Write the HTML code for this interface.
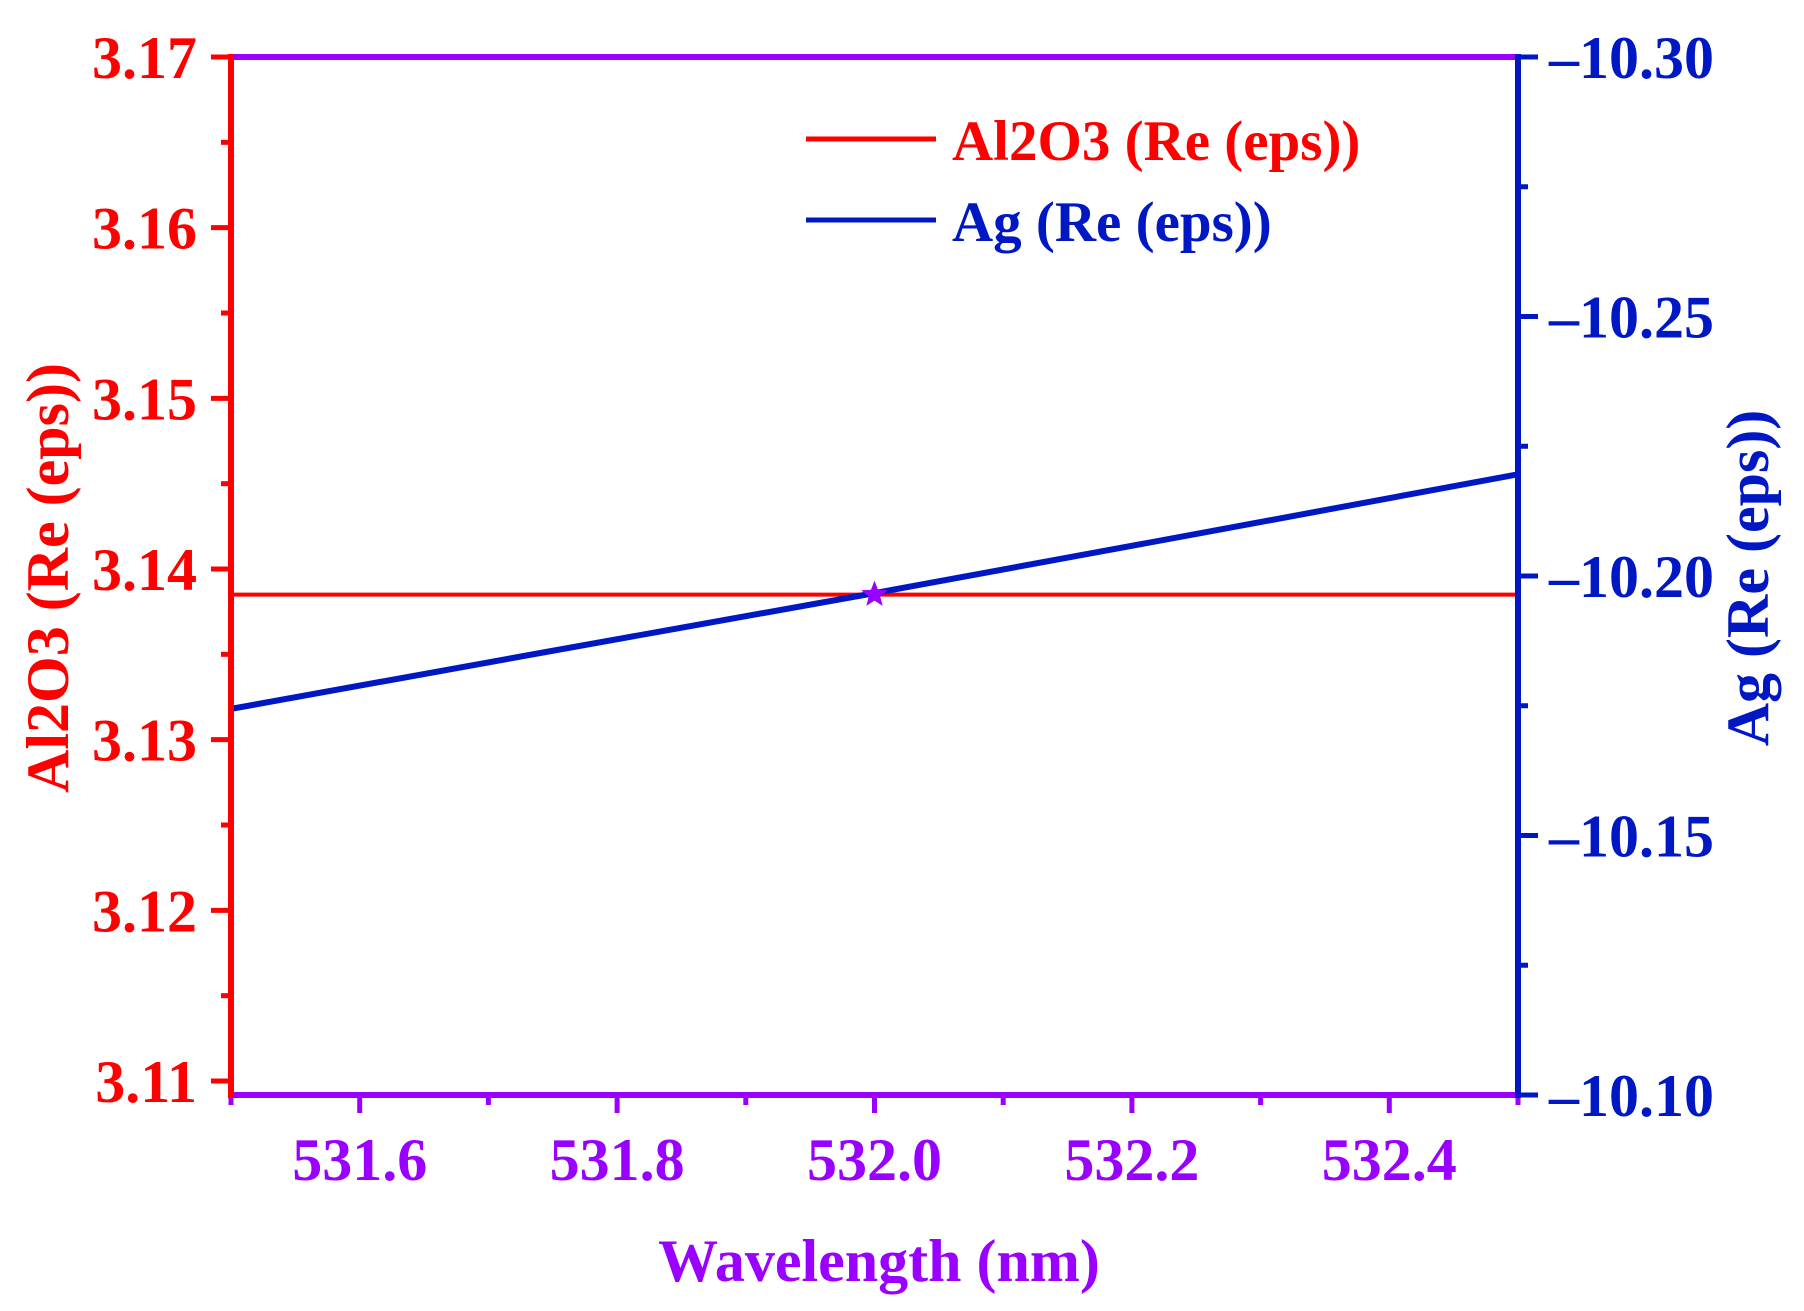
<!DOCTYPE html>
<html><head><meta charset="utf-8"><style>
html,body{margin:0;padding:0;background:#fff;}
svg{display:block;font-family:"Liberation Serif",serif;font-weight:bold;}
</style></head><body>
<svg id="chart" width="1804" height="1311" viewBox="0 0 1804 1311" xmlns="http://www.w3.org/2000/svg"></svg>
<script>
const xTicks = [531.6, 531.8, 532.0, 532.2, 532.4];
const xTickLabels = ["531.6", "531.8", "532.0", "532.2", "532.4"];
const yLeftTicks = [3.11, 3.12, 3.13, 3.14, 3.15, 3.16, 3.17];
const yLeftTickLabels = ["3.11", "3.12", "3.13", "3.14", "3.15", "3.16", "3.17"];
const yRightTicks = [-10.10, -10.15, -10.20, -10.25, -10.30];
const yRightTickLabels = ["-10.10", "-10.15", "-10.20", "-10.25", "-10.30"];
const wavelength = [531.5, 531.75, 532.0, 532.25, 532.5];
const al2o3Values = [3.1385, 3.1385, 3.1385, 3.1385, 3.1385];
const agValues = [-10.1744, -10.1856, -10.1967, -10.2081, -10.2196];
const markerX = [532.0];
const markerY = [3.1385];

const L = 231, R = 1518, T = 57, B = 1095, BL = 1081;
const RED = "#ff0000", BLUE = "#0018c4", PURP = "#9900ff";
const xS = v => L + (v - 531.5) / 1.0 * (R - L);
const yL = v => BL - (v - 3.11) / 0.06 * (BL - T);
const yR = v => B - (-10.10 - v) / 0.2 * (B - T);

const svg = document.getElementById('chart');
const NS = "http://www.w3.org/2000/svg";
function mk(tag, attrs, parent) {
  const e = document.createElementNS(NS, tag);
  for (const k in attrs) e.setAttribute(k, attrs[k]);
  (parent || svg).appendChild(e);
  return e;
}

for (let i = 0; i <= 12; i++) {
  const v = 3.11 + i * 0.005;
  const major = i % 2 === 0;
  const t = mk('line', {x1: L, x2: L - (major ? 20 : 10), y1: yL(v), y2: yL(v), stroke: RED, 'stroke-width': 5});
  
  
}
yLeftTicks.forEach((v, i) => {
  const t = mk('text', {x: 197, y: yL(v) + 21, 'text-anchor': 'end', 'font-size': 60, fill: RED});
  t.textContent = yLeftTickLabels[i];
  
  
});
for (let i = 0; i <= 8; i++) {
  const v = -10.10 - i * 0.025;
  const major = i % 2 === 0;
  const t = mk('line', {x1: R, x2: R + (major ? 20 : 10), y1: yR(v), y2: yR(v), stroke: BLUE, 'stroke-width': 5});
  
  
}
yRightTicks.forEach((v, i) => {
  const t = mk('text', {x: 1549, y: yR(v) + 21, 'text-anchor': 'start', 'font-size': 60, fill: BLUE});
  t.textContent = yRightTickLabels[i].replace('-', '\u2013');
  
  
});
for (let i = 0; i <= 10; i++) {
  const v = 531.5 + i * 0.1;
  const major = i % 2 === 1;
  const t = mk('line', {x1: xS(v), x2: xS(v), y1: B, y2: B + (major ? 18 : 10), stroke: PURP, 'stroke-width': 5});
  
  
}
xTicks.forEach((v, i) => {
  const t = mk('text', {x: xS(v), y: 1180, 'text-anchor': 'middle', 'font-size': 60, fill: PURP});
  t.textContent = xTickLabels[i];
  
  
});

const redLine = mk('polyline', {points: wavelength.map((w, i) => xS(w) + ',' + yL(al2o3Values[i])).join(' '), fill: 'none', stroke: RED, 'stroke-width': 4});


const blueLine = mk('polyline', {points: wavelength.map((w, i) => xS(w) + ',' + yR(agValues[i])).join(' '), fill: 'none', stroke: BLUE, 'stroke-width': 6});



markerX.forEach((mx, i) => {
  const cx = xS(mx), cy = yL(markerY[i]);
  const pts = [];
  for (let k = 0; k < 10; k++) {
    const r = k % 2 === 0 ? 14 : 6;
    const a = -Math.PI / 2 + k * Math.PI / 5;
    pts.push((cx + r * Math.cos(a)).toFixed(1) + ',' + (cy + r * Math.sin(a)).toFixed(1));
  }
  const s = mk('polygon', {points: pts.join(' '), fill: PURP});
  
  
});

const axTop = mk('line', {x1: L, x2: R, y1: T, y2: T, stroke: PURP, 'stroke-width': 6});


const axBot = mk('line', {x1: L - 3, x2: R + 3, y1: B, y2: B, stroke: PURP, 'stroke-width': 6});


const axL = mk('line', {x1: L, x2: L, y1: T - 3, y2: B + 3, stroke: RED, 'stroke-width': 6});


const axR = mk('line', {x1: R, x2: R, y1: T - 3, y2: B + 3, stroke: BLUE, 'stroke-width': 6});



const lg1 = mk('line', {x1: 806, x2: 936, y1: 139, y2: 139, stroke: RED, 'stroke-width': 5});


const lt1 = mk('text', {x: 952, y: 160, 'font-size': 57, fill: RED});
lt1.textContent = 'Al2O3 (Re (eps))';


const lg2 = mk('line', {x1: 806, x2: 936, y1: 220, y2: 220, stroke: BLUE, 'stroke-width': 5});


const lt2 = mk('text', {x: 952, y: 241, 'font-size': 57, fill: BLUE});
lt2.textContent = 'Ag (Re (eps))';



const tl = mk('text', {x: 0, y: 0, 'text-anchor': 'middle', 'font-size': 60, fill: RED, transform: 'translate(68,578) rotate(-90)'});
tl.textContent = 'Al2O3 (Re (eps))';


const tr = mk('text', {x: 0, y: 0, 'text-anchor': 'middle', 'font-size': 60, fill: BLUE, transform: 'translate(1768,578) rotate(-90)'});
tr.textContent = 'Ag (Re (eps))';


const tx = mk('text', {x: 879, y: 1281, 'text-anchor': 'middle', 'font-size': 60, fill: PURP});
tx.textContent = 'Wavelength (nm)';


</script>
</body></html>
